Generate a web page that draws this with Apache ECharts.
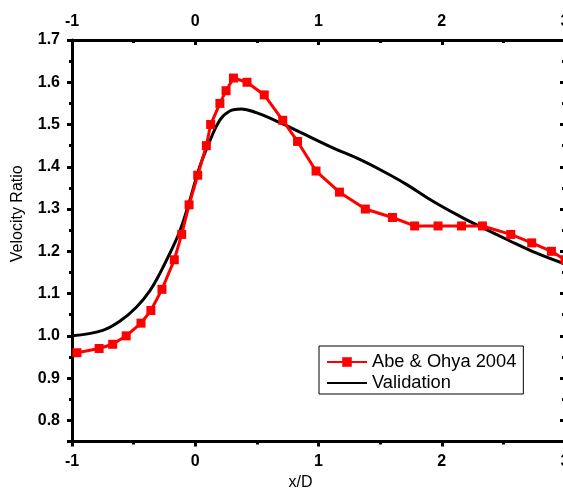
<!DOCTYPE html>
<html><head><meta charset="utf-8">
<script src="https://cdn.jsdelivr.net/npm/echarts@6/dist/echarts.min.js"></script>
<style>html,body{margin:0;padding:0;overflow:hidden;background:#fff;width:563px;height:489px}#c{width:566px;height:489px}</style>
</head><body><div id="c"></div>
<script>
const abeX = [-0.96,-0.78,-0.67,-0.56,-0.44,-0.36,-0.27,-0.17,-0.11,-0.05,0.02,0.09,0.125,0.20,0.25,0.31,0.42,0.56,0.71,0.83,0.98,1.17,1.38,1.60,1.78,1.97,2.16,2.33,2.56,2.73,2.89,3.0];
const abeY = [0.96,0.97,0.98,1.00,1.03,1.06,1.11,1.18,1.24,1.31,1.38,1.45,1.50,1.55,1.58,1.61,1.60,1.57,1.51,1.46,1.39,1.34,1.30,1.28,1.26,1.26,1.26,1.26,1.24,1.22,1.20,1.18];
const valX = [-1,-0.75,-0.61,-0.48,-0.37,-0.29,-0.21,-0.125,-0.045,0.036,0.117,0.198,0.28,0.374,0.495,0.684,0.85,1.116,1.33,1.52,1.71,1.925,2.14,2.33,2.55,2.735,3.0];
const valY = [1.00,1.013,1.035,1.067,1.106,1.146,1.193,1.248,1.32,1.40,1.46,1.51,1.532,1.537,1.528,1.505,1.482,1.445,1.418,1.39,1.359,1.319,1.284,1.256,1.225,1.20,1.17];
const seriesNames = ['Abe & Ohya 2004','Validation'];
const xName = 'x/D', yName = 'Velocity Ratio';

const font = 'Arial, "Liberation Sans", sans-serif';
const lab = {color:'#000', fontFamily:font, fontWeight:'bold', fontSize:16};
const axLine = {show:true, onZero:false, lineStyle:{color:'#000', width:3}};
const chart = echarts.init(document.getElementById('c'));
chart.setOption({
  animation:false,
  grid:{left:72, right:1, top:40, bottom:47.5, outerBoundsMode:'none', containLabel:false},
  legend:{
    orient:'vertical', left:319, top:346, padding:[7,7,2,7], itemGap:3,
    itemWidth:40, itemHeight:12, borderColor:'#000', borderWidth:1, borderRadius:0,
    textStyle:{color:'#000', fontFamily:font, fontSize:18.3},
    data:[{name:seriesNames[0]}, {name:seriesNames[1], itemStyle:{opacity:0}}]
  },
  xAxis:[
    {type:'value', position:'bottom', min:-1, max:3, interval:1,
     axisLine:axLine, axisTick:{show:true, inside:false, length:5, lineStyle:{width:3,color:'#000'}},
     minorTick:{show:true, splitNumber:2, length:3, lineStyle:{width:3,color:'#000'}},
     axisLabel:Object.assign({margin:12}, lab), splitLine:{show:false},
     name:xName, nameLocation:'middle', nameGap:30,
     nameTextStyle:{color:'#000', fontFamily:font, fontSize:16, padding:[0,36,0,0]}},
    {type:'value', position:'top', min:-1, max:3, interval:1,
     axisLine:axLine, axisTick:{show:true, inside:true, length:5, lineStyle:{width:3,color:'#000'}},
     minorTick:{show:true, splitNumber:2, length:3, lineStyle:{width:3,color:'#000'}},
     axisLabel:Object.assign({margin:10}, lab), splitLine:{show:false}}
  ],
  yAxis:[
    {type:'value', position:'left', min:0.75, max:1.7, splitNumber:10,
     axisLine:axLine, axisTick:{show:true, inside:false, length:5, lineStyle:{width:3,color:'#000'}},
     minorTick:{show:true, splitNumber:2, length:3, lineStyle:{width:3,color:'#000'}},
     axisLabel:Object.assign({margin:12, showMinLabel:false, formatter:v=>v.toFixed(1)}, lab), splitLine:{show:false},
     name:yName, nameLocation:'middle', nameGap:46, nameRotate:90,
     nameTextStyle:{color:'#000', fontFamily:font, fontSize:16, padding:[0,0,0,54]}},
    {type:'value', position:'right', min:0.75, max:1.7, splitNumber:10,
     axisLine:axLine, axisTick:{show:true, inside:true, length:5, lineStyle:{width:3,color:'#000'}},
     minorTick:{show:true, splitNumber:2, length:3, lineStyle:{width:3,color:'#000'}},
     axisLabel:{show:false}, splitLine:{show:false}}
  ],
  series:[
    {name:seriesNames[1], type:'line', smooth:0.4, symbol:'none', z:2,
     lineStyle:{color:'#000', width:3}, itemStyle:{color:'#000'},
     data:valX.map((x,i)=>[x,valY[i]])},
    {name:seriesNames[0], type:'line', symbol:'rect', symbolSize:9, z:3,
     lineStyle:{color:'#ff0000', width:3}, itemStyle:{color:'#ff0000'},
     data:abeX.map((x,i)=>[x,abeY[i]])}
  ]
});
</script></body></html>
